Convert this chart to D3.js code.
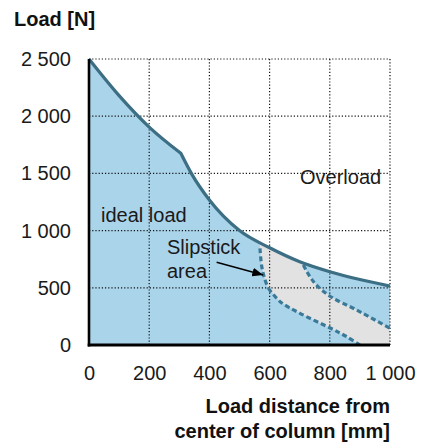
<!DOCTYPE html>
<html><head><meta charset="utf-8">
<script src="https://cdn.jsdelivr.net/npm/d3@7"></script>
<style>body{margin:0;background:#fff}svg{display:block}text{font-family:"Liberation Sans",Arial,sans-serif}</style>
</head><body>
<svg id="c" width="424" height="442"></svg>
<script>
// Data
const curveUpperPart = [[0,2500],[100,2180],[200,1905],[305,1676]];
const curveLowerPart = [[305,1676],[340,1500],[400,1267],[500,1000],[600,850],[700,728],[800,641],[900,572],[1000,515]];
const slipLeft = [[568,845],[574,685],[585,568],[596,495]];
const slipLower = [[596,495],[635,379],[701,277],[803,146],[856,73],[900,0]];
const slipUpper = [[712,699],[734,597],[756,524],[803,422],[889,306],[1000,146]];
const xTicks = [0,200,400,600,800,1000];
const yTicks = [0,500,1000,1500,2000,2500];
const annotations = [["Overload",300,184],["ideal load",101,222],["Slipstick",167,254],["area",167,278]];
const arrowFrom = [424,723], arrowTo = [579,612];
const fmt = v => v >= 1000 ? String(v).replace(/(\d)(\d{3})$/, "$1 $2") : String(v);

const svg = d3.select("#c");
const x = d3.scaleLinear().domain([0,1000]).range([89,390]);
const y = d3.scaleLinear().domain([0,2500]).range([345,59]);
const FS = 20;

const mono = d3.line().x(d=>x(d[0])).y(d=>y(d[1])).curve(d3.curveMonotoneX);
const curvePath = mono(curveUpperPart) + "L" + mono(curveLowerPart).slice(1);
const areaPath = curvePath + `L${x(1000)},${y(0)}L${x(0)},${y(0)}Z`;

const defs = svg.append("defs");
defs.append("clipPath").attr("id","under").append("path").attr("d",areaPath);

// blue area
svg.append("path").attr("d",areaPath).attr("fill","#aad4ea");

// grey slipstick region, clipped to under-curve area
const greyPoly = [[560,1200]].concat(slipLeft, slipLower.slice(1), [[1000,0]], slipUpper.slice().reverse(), [[712,1200]]);
svg.append("path")
  .attr("d", d3.line().x(d=>x(d[0])).y(d=>y(d[1])).curve(d3.curveLinearClosed)(greyPoly))
  .attr("fill","#e2e2e2").attr("clip-path","url(#under)");

// grid
const g = svg.append("g");
xTicks.forEach(t=>{ if(t>0) g.append("line").attr("x1",x(t)).attr("x2",x(t)).attr("y1",y(0)).attr("y2",y(2500)); });
yTicks.forEach(t=>{ if(t>0) g.append("line").attr("x1",x(0)).attr("x2",x(1000)).attr("y1",y(t)).attr("y2",y(t)); });
g.selectAll("line").attr("stroke","#111").attr("stroke-width",1.2).attr("stroke-dasharray","1.2,2");

// dashed slipstick boundaries
const dl = d3.line().x(d=>x(d[0])).y(d=>y(d[1])).curve(d3.curveCatmullRom);
[slipLeft, slipLower, slipUpper].forEach(s=>{
  svg.append("path").attr("d",dl(s)).attr("fill","none").attr("stroke","#3a7a98").attr("stroke-width",3.2).attr("stroke-dasharray","5,3");
});

// main curve
svg.append("path").attr("d",curvePath).attr("fill","none").attr("stroke","#3c6e84").attr("stroke-width",3.2).attr("stroke-linejoin","round");

// axes lines
svg.append("line").attr("x1",x(0)).attr("x2",x(0)).attr("y1",y(0)+1.5).attr("y2",y(2500)).attr("stroke","#000").attr("stroke-width",2.6);
svg.append("line").attr("x1",x(0)-1.3).attr("x2",x(1000)).attr("y1",y(0)).attr("y2",y(0)).attr("stroke","#000").attr("stroke-width",3);

// tick labels
const xa = d3.axisBottom(x).tickValues(xTicks).tickFormat(fmt).tickSize(0).tickPadding(0);
const xg = svg.append("g").attr("transform","translate(0,366)").call(xa);
const ya = d3.axisLeft(y).tickValues(yTicks).tickFormat(fmt).tickSize(0).tickPadding(0);
const yg = svg.append("g").attr("transform","translate(71,0)").call(ya);
[xg,yg].forEach(a=>{a.select(".domain").remove(); a.selectAll("text").attr("font-size",FS).attr("fill","#1a1a1a").attr("font-family","Liberation Sans, Arial, sans-serif");});

// titles
svg.append("text").attr("x",14).attr("y",26).attr("font-size",FS).attr("font-weight","bold").attr("fill","#111").text("Load [N]");
svg.append("text").attr("x",x(1000)).attr("y",413).attr("text-anchor","end").attr("font-size",FS).attr("font-weight","bold").attr("fill","#111").text("Load distance from");
svg.append("text").attr("x",x(1000)).attr("y",438).attr("text-anchor","end").attr("font-size",FS).attr("font-weight","bold").attr("fill","#111").text("center of column [mm]");

// annotations
annotations.forEach(a=>svg.append("text").attr("x",a[1]).attr("y",a[2]).attr("font-size",FS).attr("fill","#1a1a1a").text(a[0]));

// arrow
defs.append("marker").attr("id","ah").attr("viewBox","0 0 10 8").attr("refX",10).attr("refY",4)
  .attr("markerUnits","userSpaceOnUse").attr("markerWidth",11).attr("markerHeight",9).attr("orient","auto")
  .append("path").attr("d","M0,0L10,4L0,8z").attr("fill","#000");
svg.append("line").attr("x1",x(arrowFrom[0])).attr("y1",y(arrowFrom[1])).attr("x2",x(arrowTo[0])).attr("y2",y(arrowTo[1]))
  .attr("stroke","#000").attr("stroke-width",1.5).attr("marker-end","url(#ah)");
</script>
</body></html>
